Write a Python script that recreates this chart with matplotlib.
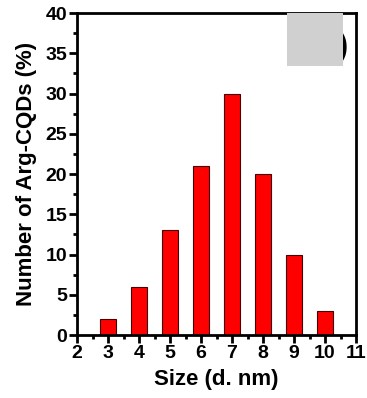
import numpy as np
import matplotlib
matplotlib.use("Agg")
import matplotlib.pyplot as plt
from matplotlib.patches import Rectangle
from matplotlib.ticker import MultipleLocator

sizes = [3, 4, 5, 6, 7, 8, 9, 10]
percent = [2, 6, 13, 21, 30, 20, 10, 3]

plt.rcParams["font.family"] = ["Liberation Sans", "DejaVu Sans"]
plt.rcParams["font.weight"] = "bold"

W, H = 367, 398
fig = plt.figure(figsize=(W / 100, H / 100), dpi=100)
ax = fig.add_axes([77 / W, 1 - 335 / H, (356 - 77) / W, (335 - 13) / H])

ax.bar(sizes, percent, width=0.52, color="#ff0000", edgecolor="#440000", linewidth=0.8)

ax.set_xlim(2, 11)
ax.set_ylim(0, 40)
ax.xaxis.set_major_locator(MultipleLocator(1))
ax.xaxis.set_minor_locator(MultipleLocator(0.5))
ax.yaxis.set_major_locator(MultipleLocator(5))
ax.yaxis.set_minor_locator(MultipleLocator(2.5))
ax.tick_params(which="major", direction="out", length=6, width=2, labelsize=14, pad=1)
ax.tick_params(which="minor", direction="out", length=3, width=2)
for lab in ax.get_xticklabels() + ax.get_yticklabels():
    lab.set_fontweight("bold")
for sp in ax.spines.values():
    sp.set_linewidth(2)

ax.set_xlabel("Size (d. nm)", fontsize=16, fontweight="bold", labelpad=5)
ax.set_ylabel("Number of Arg-CQDs (%)", fontsize=16, fontweight="bold", labelpad=6)

# partially hidden panel label
ax.text(0.952, 0.895, ")", transform=ax.transAxes, fontsize=22, fontweight="bold",
        ha="center", va="center")
ax.add_patch(Rectangle(((287 - 77) / (356 - 77), 1 - (66 - 13) / (335 - 13)),
                       (343 - 287) / (356 - 77), (66 - 13) / (335 - 13),
                       transform=ax.transAxes, facecolor="#d0d0d0", edgecolor="none",
                       zorder=5))

fig.savefig("out.png", dpi=100, facecolor="white")
